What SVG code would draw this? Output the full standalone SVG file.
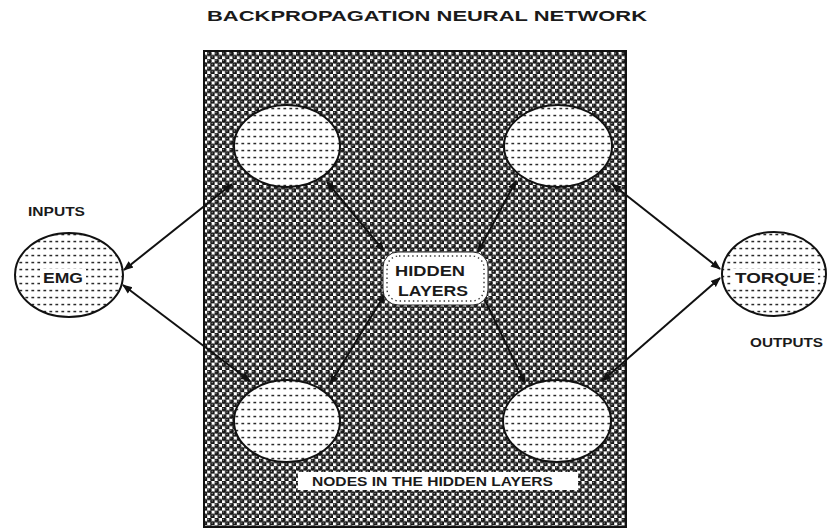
<svg xmlns="http://www.w3.org/2000/svg" width="827" height="530" viewBox="0 0 827 530">
<defs>
<style>
.t{font-family:"Liberation Sans",Arial,sans-serif;font-weight:bold;fill:#1a1a1a;}
.node{fill:url(#dots);stroke:#111;stroke-width:2;}
.clear{fill:#ffffff;}
.conn{stroke:#111;stroke-width:2;fill:none;marker-start:url(#ah);marker-end:url(#ah);}
</style>
<pattern id="balls" width="7.4" height="7.4" patternUnits="userSpaceOnUse">
<rect width="7.4" height="7.4" fill="#ffffff"/>
<circle cx="1.85" cy="1.85" r="2.6" fill="#151515"/>
<circle cx="5.55" cy="5.55" r="2.6" fill="#151515"/>
<circle cx="1.3" cy="1.3" r="0.7" fill="#9a9a9a"/>
<circle cx="5.0" cy="5.0" r="0.7" fill="#9a9a9a"/>
</pattern>
<pattern id="dots" width="6" height="7" patternUnits="userSpaceOnUse">
<rect width="6" height="7" fill="#ffffff"/>
<rect x="1.4" y="2.8" width="2.8" height="1.5" fill="#2a2a2a"/>
</pattern>
<marker id="ah" viewBox="0 0 10 10" refX="9" refY="5" markerWidth="5" markerHeight="5" orient="auto-start-reverse">
<path d="M0,1 L10,5 L0,9 Z" fill="#111"/>
</marker>
</defs>
<rect width="827" height="530" fill="#ffffff"/>
<text id="title" class="t" x="207" y="21" font-size="15.5" textLength="440" lengthAdjust="spacingAndGlyphs">BACKPROPAGATION NEURAL NETWORK</text>
<g id="network-box">
<rect x="204" y="51" width="422" height="476" fill="url(#balls)" stroke="#111" stroke-width="2"/>
</g>
<g id="connectors">
<line class="conn" x1="124" y1="270" x2="232" y2="184"/>
<line class="conn" x1="123" y1="285" x2="250" y2="381"/>
<line class="conn" x1="612" y1="184" x2="720" y2="269"/>
<line class="conn" x1="602" y1="381" x2="720" y2="278"/>
<line class="conn" x1="327" y1="182" x2="384" y2="251"/>
<line class="conn" x1="516" y1="181" x2="478" y2="252"/>
<line class="conn" x1="330" y1="384" x2="385" y2="294"/>
<line class="conn" x1="525" y1="383" x2="481" y2="292"/>
</g>
<g id="node-emg">
<ellipse class="node" cx="69" cy="275" rx="54" ry="42"/>
<rect class="clear" x="40" y="269" width="46" height="17"/>
<text class="t" x="43" y="283" font-size="14" textLength="40" lengthAdjust="spacingAndGlyphs">EMG</text>
</g>
<text id="label-inputs" class="t" x="28" y="216" font-size="12" textLength="57" lengthAdjust="spacingAndGlyphs">INPUTS</text>
<g id="node-torque">
<ellipse class="node" cx="774" cy="274" rx="52" ry="42"/>
<rect class="clear" x="732" y="269" width="86" height="17"/>
<text class="t" x="735" y="283" font-size="14" textLength="80" lengthAdjust="spacingAndGlyphs">TORQUE</text>
</g>
<text id="label-outputs" class="t" x="750" y="347" font-size="12" textLength="73" lengthAdjust="spacingAndGlyphs">OUTPUTS</text>
<g id="node-h1">
<ellipse class="node" cx="287" cy="146" rx="53" ry="41"/>
</g>
<g id="node-h2">
<ellipse class="node" cx="558" cy="146" rx="54" ry="41"/>
</g>
<g id="node-h3">
<ellipse class="node" cx="287" cy="421" rx="53" ry="41"/>
</g>
<g id="node-h4">
<ellipse class="node" cx="557" cy="421" rx="54" ry="41"/>
</g>
<g id="node-hidden">
<rect x="383" y="252" width="105" height="53" rx="15" fill="#ffffff" stroke="#222" stroke-width="1"/>
<rect x="387" y="256" width="97" height="45" rx="12" fill="none" stroke="#333" stroke-width="1.4" stroke-dasharray="1.4 3"/>
<text class="t" x="395" y="276" font-size="14.5" textLength="70" lengthAdjust="spacingAndGlyphs">HIDDEN</text>
<text class="t" x="398" y="296" font-size="14.5" textLength="70" lengthAdjust="spacingAndGlyphs">LAYERS</text>
</g>
<g id="label-nodes">
<rect x="298" y="472" width="280" height="18" fill="#ffffff"/>
<text class="t" x="312" y="486" font-size="13" textLength="241" lengthAdjust="spacingAndGlyphs">NODES IN THE HIDDEN LAYERS</text>
</g>
</svg>
